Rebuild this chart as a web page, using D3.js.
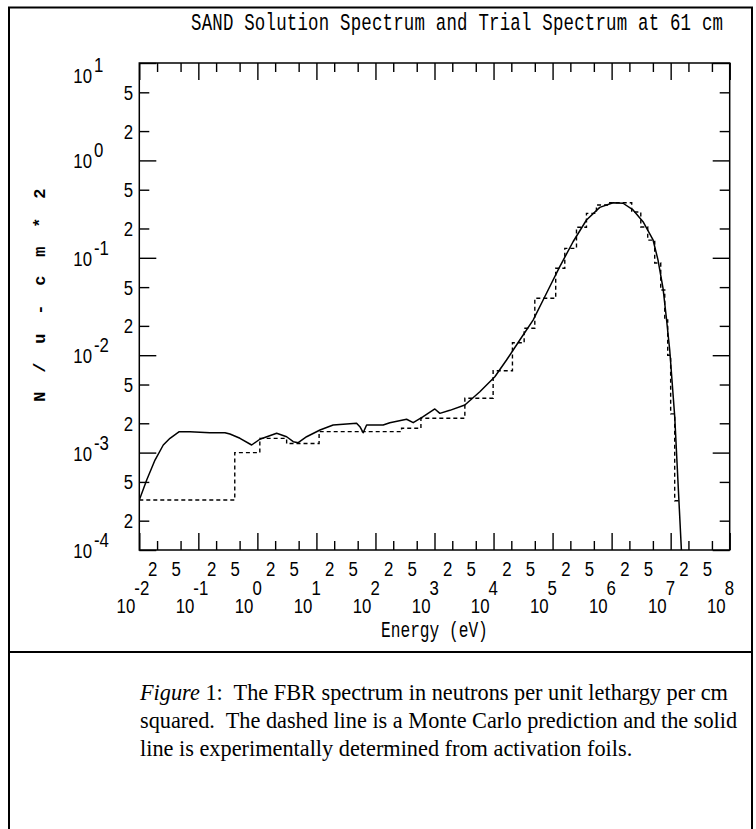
<!DOCTYPE html>
<html>
<head>
<meta charset="utf-8">
<script src="https://cdn.jsdelivr.net/npm/d3@7"></script>
<style>
  body { margin: 0; background: #fff; }
  svg { display: block; }
  text { white-space: pre; }
</style>
</head>
<body>
<svg id="chart" width="756" height="829"></svg>
<script>
// ---- Data -----------------------------------------------------------
// Axis decades (powers of ten) and the labelled minor multipliers.
const energyDecades = [-2, -1, 0, 1, 2, 3, 4, 5, 6, 7, 8];
const fluxDecades = [-4, -3, -2, -1, 0, 1];
const minorMultipliers = [2, 5];

// SAND solution spectrum (solid line): energy in eV, flux in n/u-cm^2.
const solidEnergy = [
  0.01, 0.01334, 0.01845, 0.02547, 0.0331, 0.0475, 0.0721, 0.157, 0.282, 0.343,
  0.507, 0.80, 1.10, 2.12, 3.13, 4.05, 4.92, 6.82, 11.5, 19.2,
  47.9, 54.5, 61.9, 70.8, 135, 175, 337, 436, 643, 1014,
  1233, 1820, 3266, 5861, 1.052e4, 1.66e4, 2.786e4, 4.677e4, 7.889e4, 1.324e5,
  2.223e5, 3.75e5, 6.3e5, 1.057e6, 1.563e6, 2.307e6, 3.404e6, 5.035e6, 6.11e6, 7.43e6,
  8.47e6, 9.64e6, 1.172e7, 1.52e7
];
const solidFlux = [
  3.26e-4, 5.24e-4, 8.39e-4, 1.197e-3, 1.403e-3, 1.641e-3, 1.641e-3, 1.60e-3, 1.60e-3, 1.552e-3,
  1.403e-3, 1.197e-3, 1.371e-3, 1.578e-3, 1.455e-3, 1.294e-3, 1.265e-3, 1.455e-3, 1.706e-3, 1.919e-3,
  2.0e-3, 1.845e-3, 1.60e-3, 1.919e-3, 1.919e-3, 2.028e-3, 2.198e-3, 2.028e-3, 2.339e-3, 2.805e-3,
  2.529e-3, 2.716e-3, 3.083e-3, 4.217e-3, 6.01e-3, 8.93e-3, 1.432e-2, 2.296e-2, 4.325e-2, 8.11e-2,
  0.1462, 0.2443, 0.3296, 0.3681, 0.3631, 0.3097, 0.2350, 0.1524, 0.0948, 0.0486,
  0.02393, 0.01129, 2.34e-3, 1.0e-4
];

// Monte Carlo trial spectrum (dashed histogram): group edges in eV and group flux.
const trialEdges = [
  0.01, 0.414, 1.1, 3.13, 11.1, 277, 589, 3266, 9840, 2.09e4,
  3.3e4, 5.0e4, 1.13e5, 1.61e5, 2.54e5, 3.75e5, 5.53e5, 9.3e5, 2.19e6, 3.12e6,
  4.09e6, 5.37e6, 6.79e6, 7.94e6, 8.91e6, 1.0e7, 1.17e7, 1.41e7
];
const trialFlux = [
  3.26e-4, 1.0e-3, 1.40e-3, 1.24e-3, 1.64e-3, 1.78e-3, 2.25e-3, 3.61e-3, 6.93e-3, 1.34e-2,
  1.89e-2, 3.84e-2, 7.80e-2, 0.125, 0.206, 0.286, 0.348, 0.368, 0.295, 0.207,
  0.152, 0.0885, 0.0467, 0.0230, 0.010, 2.5e-3, 3.2e-4
];

const titleText = "SAND Solution Spectrum and Trial Spectrum at 61 cm";
const xLabelText = "Energy (eV)";
const yLabelText = "N / u - c m * 2";
const captionLead = "Figure";
const captionLines = [
  " 1:  The FBR spectrum in neutrons per unit lethargy per cm",
  "squared.  The dashed line is a Monte Carlo prediction and the solid",
  "line is experimentally determined from activation foils."
];

// ---- Layout ---------------------------------------------------------
const plot = { left: 139.3, right: 729.7, top: 63, bottom: 550 };
const svg = d3.select("#chart");

const x = d3.scaleLog().domain([1e-2, 1e8]).range([plot.left, plot.right]);
const y = d3.scaleLog().domain([1e-4, 1e1]).range([plot.bottom, plot.top]);

const majorE = energyDecades.map(p => Math.pow(10, p));
const minorE = energyDecades.slice(0, -1).flatMap(p => minorMultipliers.map(m => m * Math.pow(10, p)));
const majorF = fluxDecades.map(p => Math.pow(10, p));
const minorF = fluxDecades.slice(0, -1).flatMap(p => minorMultipliers.map(m => m * Math.pow(10, p)));

// Page frame with the caption cell below the figure
const frame = svg.append("g").attr("stroke", "#000").attr("stroke-width", 2).attr("fill", "none");
frame.append("line").attr("x1", 8).attr("x2", 753).attr("y1", 7.5).attr("y2", 7.5);
frame.append("line").attr("x1", 9).attr("x2", 9).attr("y1", 7).attr("y2", 829);
frame.append("line").attr("x1", 752).attr("x2", 752).attr("y1", 7).attr("y2", 829);
frame.append("line").attr("x1", 8).attr("x2", 753).attr("y1", 652).attr("y2", 652);

// Ticks: long at each decade, short at 2 and 5, on all four sides, pointing inward
function tickAxis(axisFn, scale, values, size, translate) {
  const g = svg.append("g")
    .attr("transform", translate)
    .call(axisFn(scale).tickValues(values).tickSize(-size).tickFormat(""));
  g.select(".domain").remove();
  g.selectAll(".tick line").attr("stroke", "#000").attr("stroke-width", 1.4);
}
tickAxis(d3.axisBottom, x, majorE, 17, `translate(0,${plot.bottom})`);
tickAxis(d3.axisBottom, x, minorE, 9, `translate(0,${plot.bottom})`);
tickAxis(d3.axisTop, x, majorE, 17, `translate(0,${plot.top})`);
tickAxis(d3.axisTop, x, minorE, 9, `translate(0,${plot.top})`);
tickAxis(d3.axisLeft, y, majorF, 17, `translate(${plot.left},0)`);
tickAxis(d3.axisLeft, y, minorF, 10, `translate(${plot.left},0)`);
tickAxis(d3.axisRight, y, majorF, 17, `translate(${plot.right},0)`);
tickAxis(d3.axisRight, y, minorF, 10, `translate(${plot.right},0)`);

svg.append("rect")
  .attr("x", plot.left).attr("y", plot.top)
  .attr("width", plot.right - plot.left).attr("height", plot.bottom - plot.top)
  .attr("fill", "none").attr("stroke", "#000").attr("stroke-width", 1.5);

// Condensed tick-label text
const tickFont = "'Liberation Sans', Arial, sans-serif";
function label(xp, yp, str, anchor) {
  svg.append("text")
    .attr("transform", `translate(${xp},${yp}) scale(0.8,1)`)
    .attr("text-anchor", anchor)
    .attr("font-family", tickFont)
    .attr("font-size", 21)
    .attr("fill", "#000")
    .text(str);
}
const mantissa = v => String(Math.round(v / Math.pow(10, Math.floor(Math.log10(v) + 1e-9))));

// x tick labels
minorE.forEach(v => label(x(v) - 4.5, 576, mantissa(v), "middle"));
energyDecades.forEach(p => {
  const xp = x(Math.pow(10, p));
  label(xp - 4, 613, "10", "end");
  label(xp - 5, 595, String(p), "start");
});

// y tick labels
minorF.forEach(v => label(133, y(v) + 7.5, mantissa(v), "end"));
fluxDecades.forEach(p => {
  const base = Math.max(y(Math.pow(10, p)) + 8, 83);
  label(92, base, "10", "end");
  label(94, base - 11, String(p), "start");
});

// Titles (stretched monospace)
svg.append("text")
  .attr("transform", "translate(191,29.5) scale(1,1.4)")
  .attr("font-family", "'Liberation Mono', 'Courier New', monospace")
  .attr("font-size", 17.4)
  .attr("textLength", 532)
  .attr("lengthAdjust", "spacing")
  .text(titleText);

svg.append("text")
  .attr("transform", "translate(381,637) scale(1,1.37)")
  .attr("font-family", "'Liberation Mono', 'Courier New', monospace")
  .attr("font-size", 16.2)
  .text(xLabelText);

svg.append("text")
  .attr("transform", "translate(45,293) rotate(-90)")
  .attr("text-anchor", "middle")
  .attr("font-family", "'Liberation Mono', 'Courier New', monospace")
  .attr("font-weight", "bold")
  .attr("font-size", 17)
  .attr("letter-spacing", 4.3)
  .text(yLabelText);

// ---- Curves ---------------------------------------------------------
svg.append("clipPath").attr("id", "plotClip")
  .append("rect")
  .attr("x", plot.left).attr("y", plot.top)
  .attr("width", plot.right - plot.left).attr("height", plot.bottom - plot.top);

const curves = svg.append("g").attr("clip-path", "url(#plotClip)");

const trialPoints = trialEdges.map((e, i) => [e, trialFlux[Math.min(i, trialFlux.length - 1)]]);
curves.append("path")
  .datum(trialPoints)
  .attr("d", d3.line().x(d => x(d[0])).y(d => y(d[1])).curve(d3.curveStepAfter))
  .attr("fill", "none").attr("stroke", "#000").attr("stroke-width", 1.4)
  .attr("stroke-dasharray", "4,3");

const solidPoints = solidEnergy.map((e, i) => [e, solidFlux[i]]);
curves.append("path")
  .datum(solidPoints)
  .attr("d", d3.line().x(d => x(d[0])).y(d => y(d[1])))
  .attr("fill", "none").attr("stroke", "#000").attr("stroke-width", 1.5)
  .attr("stroke-linejoin", "round");

// ---- Caption --------------------------------------------------------
const capFont = "'Liberation Serif', 'Times New Roman', serif";
captionLines.forEach((line, i) => {
  const t = svg.append("text")
    .attr("transform", `translate(140,${700 + i * 28})`)
    .attr("font-family", capFont)
    .attr("font-size", 22.3)
    .attr("fill", "#000");
  if (i === 0) t.append("tspan").attr("font-style", "italic").text(captionLead);
  t.append("tspan").text(line);
});
</script>
</body>
</html>
